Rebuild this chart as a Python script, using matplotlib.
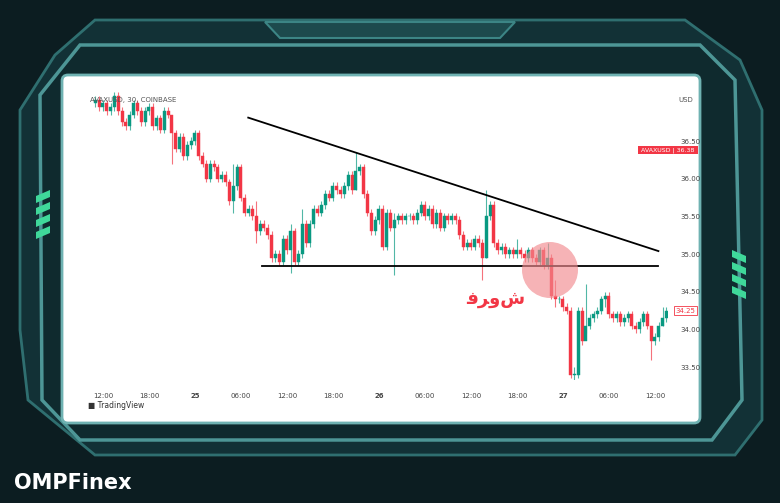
import matplotlib
matplotlib.use('Agg')
import matplotlib.pyplot as plt
from matplotlib.patches import Polygon, Circle, FancyBboxPatch, Rectangle

# 30-minute closes, starting 24th 11:00 (open of each candle = previous close)
first_open = 37.0
closes = [37.05, 36.95, 37.0, 36.9, 36.95, 37.1, 36.9, 36.75, 36.7, 36.85, 37.0, 36.9, 36.75, 36.9,
          36.95, 36.7, 36.8, 36.65, 36.9, 36.85, 36.6, 36.4, 36.55, 36.3, 36.45, 36.5,
          36.6, 36.3, 36.2, 36.0, 36.2, 36.15, 36.0, 36.05, 35.95, 35.7, 35.9, 36.15,
          35.75, 35.55, 35.6, 35.5, 35.3, 35.4, 35.35, 35.25, 34.95, 35.0, 34.9, 35.2,
          35.05, 35.3, 34.9, 35.0, 35.4, 35.15, 35.4, 35.6, 35.55, 35.65, 35.8, 35.75,
          35.9, 35.85, 35.8, 35.9, 36.05, 35.85, 36.1, 36.15, 35.8, 35.55, 35.3, 35.45,
          35.6, 35.1, 35.55, 35.35, 35.45, 35.5, 35.45, 35.5, 35.5, 35.45, 35.55, 35.65,
          35.5, 35.6, 35.4, 35.55, 35.35, 35.5, 35.45, 35.5, 35.45, 35.25, 35.1, 35.15,
          35.1, 35.2, 35.15, 34.95, 35.5, 35.65, 35.15, 35.05, 35.1, 35.0, 35.05, 35.0,
          35.05, 35.0, 34.95, 35.05, 34.95, 34.9, 35.05, 34.85, 34.95, 34.45, 34.4, 34.4,
          34.3, 34.25, 33.4, 33.4, 34.25, 33.85, 34.05, 34.15, 34.2, 34.25, 34.4, 34.45,
          34.2, 34.15, 34.2, 34.1, 34.15, 34.2, 34.05, 34.0, 34.1, 34.2, 34.05, 33.85,
          33.9, 34.05, 34.15, 34.25]
# notable wick extremes: index -> (high, low)
wicks = {20: (36.75, 36.2), 36: (36.2, 35.55), 42: (35.7, 35.15), 51: (35.4, 34.75),
         54: (35.6, 34.95), 68: (36.35, 35.85), 78: (35.55, 34.72), 101: (35.2, 34.65),
         102: (35.85, 34.95), 110: (35.2, 34.95), 118: (35.15, 34.8), 120: (34.65, 34.3),
         124: (34.3, 33.35), 125: (33.5, 33.3), 128: (34.6, 33.95), 133: (34.5, 34.3),
         145: (34.05, 33.6), 148: (34.3, 34.05)}

tick_idx = [2, 14, 26, 38, 50, 62, 74, 86, 98, 110, 122, 134, 146]
tick_labels = ['12:00', '18:00', '25', '06:00', '12:00', '18:00', '26', '06:00',
               '12:00', '18:00', '27', '06:00', '12:00']
price_ticks = [33.5, 34.0, 34.5, 35.0, 35.5, 36.0, 36.5]

# trendlines (candle index, price)
upper_line = ([39.9, 146.9], [36.81, 35.04])
support_line = ([43.5, 146.9], [34.84, 34.84])

W, H = 780, 503
fig = plt.figure(figsize=(7.8, 5.03), dpi=100)
fig.patch.set_facecolor('#0c1d21')

# decorative frame, pixel coordinates
bg = fig.add_axes([0, 0, 1, 1])
bg.set_xlim(0, W)
bg.set_ylim(H, 0)
bg.axis('off')
outer = [(95, 20), (685, 20), (740, 60), (762, 110), (762, 420), (735, 455), (95, 455),
         (28, 400), (20, 330), (20, 110), (55, 55)]
bg.add_patch(Polygon(outer, closed=True, fc='#123136', ec='#2f6f70', lw=2))
tab = [(265, 22), (515, 22), (500, 38), (280, 38)]
bg.add_patch(Polygon(tab, closed=True, fc='#1d4a4d', ec='#3c8585', lw=1.5))
mid = [(80, 45), (700, 45), (735, 80), (742, 400), (712, 440), (80, 440), (42, 400), (40, 95)]
bg.add_patch(Polygon(mid, closed=True, fc='#0f2a2e', ec='#4d9696', lw=2.5))
bg.add_patch(FancyBboxPatch((62, 75), 638, 348, boxstyle='round,pad=0,rounding_size=6',
                            fc='white', ec='#6fb2b2', lw=2))
for k in range(4):
    bg.add_patch(Polygon([(36, 196 + k * 12), (50, 190 + k * 12), (50, 197 + k * 12), (36, 203 + k * 12)],
                         fc='#3fd89a', ec='none'))
    bg.add_patch(Polygon([(732, 250 + k * 12), (746, 256 + k * 12), (746, 263 + k * 12), (732, 257 + k * 12)],
                         fc='#3fd89a', ec='none'))
bg.text(14, 483, 'OMPFinex', color='white', fontsize=15, fontweight='bold', va='center')
bg.text(678, 100, 'USD', color='#555', fontsize=5, va='center')
bg.text(88, 406, '\u25a0 TradingView', color='#333', fontsize=5.5, va='center')

ax = fig.add_axes([88 / W, (H - 380) / H, 580 / W, 288 / H])
ax.set_facecolor('white')
opens = [first_open] + closes[:-1]
for i, (o, c) in enumerate(zip(opens, closes)):
    col = '#089981' if c >= o else '#f23645'
    hi, lo = wicks.get(i, (max(o, c) + 0.05, min(o, c) - 0.05))
    ax.vlines(i, lo, hi, color=col, lw=0.8, alpha=0.7)
    ax.add_patch(Rectangle((i - 0.4, min(o, c)), 0.8, max(abs(c - o), 0.01), fc=col, ec=col, lw=0.3))

ax.plot(*upper_line, color='black', lw=1.3)
ax.plot(*support_line, color='black', lw=1.3)
ax.text(104.5, 34.4, '\uFED3\uFEAE\uFEED\uFEB5', color='#f23645', fontsize=13, fontweight='bold',
        ha='center', va='center', family=['DejaVu Sans'])

ax.set_xlim(-1.9, 149.4)
ax.set_ylim(33.33, 37.15)
ax.set_xticks(tick_idx)
ax.set_xticklabels(tick_labels)
for lab in ax.get_xticklabels():
    if len(lab.get_text()) == 2:
        lab.set_fontweight('bold')
ax.set_yticks(price_ticks)
ax.set_yticklabels([f'{p:.2f}' for p in price_ticks])
ax.yaxis.tick_right()
ax.tick_params(length=0, labelsize=5, colors='#444', pad=9)
for s in ax.spines.values():
    s.set_visible(False)

# price tags
ax.text(1.0, (36.38 - 33.33) / (37.15 - 33.33), ' AVAXUSD | 36.38 ', transform=ax.transAxes,
        fontsize=4.5, color='white', va='center', ha='center',
        bbox=dict(boxstyle='square,pad=0.2', fc='#f23645', ec='none'), clip_on=False)
ax.text(1.03, (34.25 - 33.33) / (37.15 - 33.33), '34.25', transform=ax.transAxes,
        fontsize=5, color='#f23645', va='center', ha='center',
        bbox=dict(boxstyle='square,pad=0.2', fc='white', ec='#f23645', lw=0.6), clip_on=False)

# overlay in pixel coords: highlight circle and header
top = fig.add_axes([0, 0, 1, 1])
top.set_xlim(0, W)
top.set_ylim(H, 0)
top.axis('off')
top.add_patch(Circle((550, 270), 28, fc='#f28b90', alpha=0.65, ec='none'))
top.text(90, 100, 'AVAXUSD, 30, COINBASE', color='#555', fontsize=5, va='center')

fig.savefig('out.png', dpi=100)
